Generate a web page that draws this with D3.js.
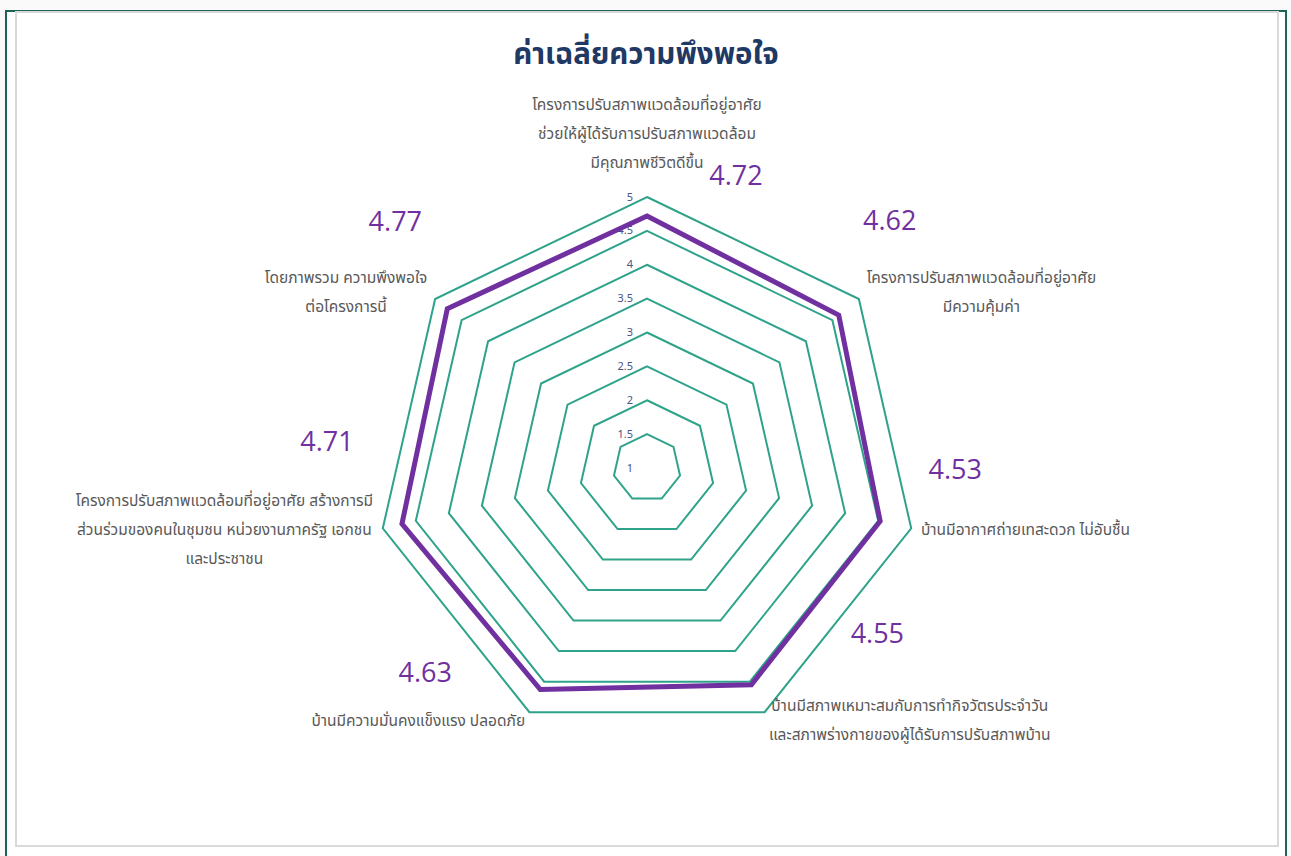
<!DOCTYPE html>
<html>
<head>
<meta charset="utf-8">
<script src="https://cdn.jsdelivr.net/npm/d3@7"></script>
<style>
  html, body { margin: 0; padding: 0; background: #ffffff; }
  svg { display: block; }
  text { font-family: "Noto Sans Thai", "Leelawadee UI", Tahoma, "Noto Sans", sans-serif; }
</style>
</head>
<body>
<div id="chart"></div>
<script>
// chart data
const categories = [
    ["โครงการปรับสภาพแวดล้อมที่อยู่อาศัย", "ช่วยให้ผู้ได้รับการปรับสภาพแวดล้อม", "มีคุณภาพชีวิตดีขึ้น"],
    ["โครงการปรับสภาพแวดล้อมที่อยู่อาศัย", "มีความคุ้มค่า"],
    ["บ้านมีอากาศถ่ายเทสะดวก ไม่อับชื้น"],
    ["บ้านมีสภาพเหมาะสมกับการทำกิจวัตรประจำวัน", "และสภาพร่างกายของผู้ได้รับการปรับสภาพบ้าน"],
    ["บ้านมีความมั่นคงแข็งแรง ปลอดภัย"],
    ["โครงการปรับสภาพแวดล้อมที่อยู่อาศัย สร้างการมี", "ส่วนร่วมของคนในชุมชน หน่วยงานภาครัฐ เอกชน", "และประชาชน"],
    ["โดยภาพรวม ความพึงพอใจ", "ต่อโครงการนี้"]
];
const values = [4.72, 4.62, 4.53, 4.55, 4.63, 4.71, 4.77];
const ticks = [1, 1.5, 2, 2.5, 3, 3.5, 4, 4.5, 5];
const title = "ค่าเฉลี่ยความพึงพอใจ";

// data labels were dragged by hand in the original, so keep their offsets
const labelOffsets = [[89, -41], [51, -96], [75, -53], [126, -52], [-115, -18], [-75, -83], [-52, -88]];

const width = 1291, height = 856;
const cx = 647, cy = 468, radius = 271;

const svg = d3.select("#chart").append("svg")
    .attr("width", width)
    .attr("height", height);

// frame
svg.append("rect").attr("x", 0).attr("y", 0).attr("width", width).attr("height", height).attr("fill", "#fafafa");
svg.append("rect")
    .attr("x", 6).attr("y", 11).attr("width", 1280).attr("height", 860)
    .attr("fill", "#ffffff").attr("stroke", "#1e6358").attr("stroke-width", 2);
svg.append("rect")
    .attr("x", 16).attr("y", 12).attr("width", 1262).attr("height", 834)
    .attr("fill", "#ffffff").attr("stroke", "#d9d9d9").attr("stroke-width", 2);

svg.append("text")
    .attr("x", 646).attr("y", 55)
    .attr("text-anchor", "middle")
    .attr("dominant-baseline", "central")
    .style("font-size", "29.5px")
    .style("font-weight", "bold")
    .attr("fill", "#1f3864")
    .text(title);

const n = categories.length;
const angle = d3.scaleLinear().domain([0, n]).range([0, 2 * Math.PI]);
const r = d3.scaleLinear().domain([1, 5]).range([0, radius]);

const plot = svg.append("g").attr("transform", `translate(${cx},${cy})`);

const line = d3.lineRadial()
    .angle((d, i) => angle(i))
    .radius(d => r(d))
    .curve(d3.curveLinearClosed);

// grid rings
plot.selectAll(".ring")
    .data(ticks.filter(t => t > 1))
    .enter()
    .append("path")
    .attr("class", "ring")
    .attr("d", t => line(d3.range(n).map(() => t)))
    .attr("fill", "none")
    .attr("stroke", "#2ea38a")
    .attr("stroke-width", 2);

// tick labels
plot.selectAll(".tick")
    .data(ticks)
    .enter()
    .append("text")
    .attr("class", "tick")
    .attr("x", -14)
    .attr("y", t => -r(t))
    .attr("text-anchor", "end")
    .attr("dominant-baseline", "central")
    .style("font-size", "11px")
    .attr("fill", "#4b5284")
    .text(t => t);

// data series
plot.append("path")
    .attr("d", line(values))
    .attr("fill", "none")
    .attr("stroke", "#7030a0")
    .attr("stroke-width", 5)
    .attr("stroke-linejoin", "miter");

// value labels
plot.selectAll(".value")
    .data(values)
    .enter()
    .append("text")
    .attr("class", "value")
    .attr("x", (d, i) => r(d) * Math.sin(angle(i)) + labelOffsets[i][0])
    .attr("y", (d, i) => -r(d) * Math.cos(angle(i)) + labelOffsets[i][1])
    .attr("text-anchor", "middle")
    .attr("dominant-baseline", "central")
    .style("font-family", "'Open Sans', sans-serif")
    .style("font-size", "27px")
    .attr("fill", "#7030a0")
    .text(d => d.toFixed(2));

// category labels
const lineH = 29, gap = 10;
categories.forEach(function(lines, i) {
    const a = angle(i);
    const sx = Math.sin(a), sy = -Math.cos(a);
    const px = (radius + gap) * sx, py = (radius + gap) * sy;
    const g = plot.append("g");
    const t = g.append("text")
        .attr("text-anchor", "middle")
        .style("font-size", "15.5px")
        .attr("fill", "#595959");
    lines.forEach(function(s, j) {
        t.append("tspan").attr("x", 0).attr("y", j * lineH).attr("dominant-baseline", "central").text(s);
    });
    const w = d3.max(t.selectAll("tspan").nodes(), nd => nd.getComputedTextLength());
    const h = (lines.length - 1) * lineH;
    let x = px, y = py - h / 2;
    if (sx > 0.2) x = px + w / 2;
    else if (sx < -0.2) x = px - w / 2;
    if (Math.abs(sx) <= 0.2) y = sy < 0 ? py - h - 24 : py + 14;
    g.attr("transform", `translate(${x},${y})`);
});
</script>
</body>
</html>
